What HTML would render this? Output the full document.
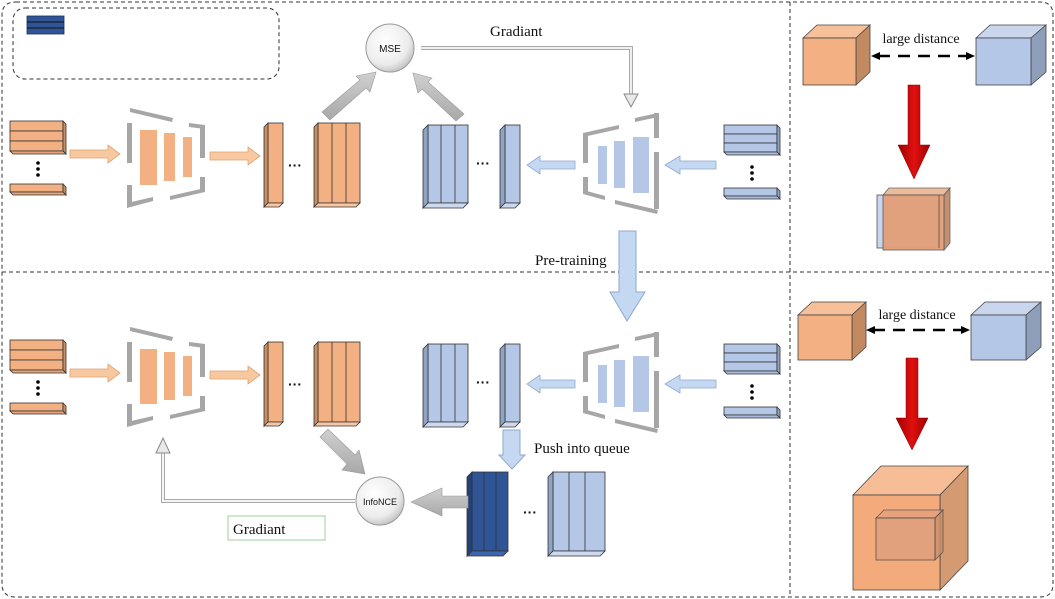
<!DOCTYPE html>
<html><head><meta charset="utf-8"><style>
html,body{margin:0;padding:0;background:#fff}
svg{display:block}
text{font-family:"Liberation Serif",serif;fill:#111}
</style></head><body>
<svg width="1055" height="599" viewBox="0 0 1055 599" xmlns="http://www.w3.org/2000/svg">
<defs>
<linearGradient id="gy" x1="0" y1="0" x2="0" y2="1"><stop offset="0" stop-color="#d0d0d0"/><stop offset="1" stop-color="#a8a8a8"/></linearGradient>
<radialGradient id="cg" cx="0.4" cy="0.35" r="0.7"><stop offset="0" stop-color="#fff"/><stop offset="0.7" stop-color="#ececec"/><stop offset="1" stop-color="#bdbdbd"/></radialGradient>
<linearGradient id="rd" x1="0" y1="0" x2="1" y2="0"><stop offset="0" stop-color="#9e0000"/><stop offset="0.5" stop-color="#e01010"/><stop offset="1" stop-color="#9e0000"/></linearGradient>

<g id="inO">
  <g stroke="#333" stroke-width="0.8">
  <rect x="10" y="121" width="53" height="10" fill="#f3b183"/>
  <rect x="10" y="131" width="53" height="10" fill="#f3b183"/>
  <rect x="10" y="141" width="53" height="10" fill="#f3b183"/>
  <polygon points="63,121 66,124 66,154 63,151" fill="#c98d62"/>
  <polygon points="10,151 63,151 66,154 13,154" fill="#e8a478"/>
  <rect x="10" y="184" width="53" height="8" fill="#f3b183"/>
  <polygon points="63,184 66,187 66,195 63,192" fill="#c98d62"/>
  <polygon points="10,192 63,192 66,195 13,195" fill="#e8a478"/>
  </g>
  <circle cx="38" cy="163" r="1.8" fill="#000"/><circle cx="38" cy="169" r="1.8" fill="#000"/><circle cx="38" cy="175" r="1.8" fill="#000"/>
</g>
<g id="encO">
  <g fill="#a6a6a6">
    <polygon points="130,108 173,118 172,122 130,112"/>
    <rect x="127" y="123" width="5" height="40"/>
    <polygon points="189,123 205,125 205,129 189,127"/>
    <rect x="200" y="128" width="5" height="30"/>
    <rect x="127" y="185" width="5" height="22"/>
    <polygon points="127,203 153,197 153,201 127,208"/>
    <polygon points="170,196 205,188 205,192 170,200"/>
    <rect x="200" y="177" width="5" height="15"/>
  </g>
  <rect x="140" y="130" width="17" height="55" fill="#f3b183"/>
  <rect x="164" y="133" width="11" height="48" fill="#f3b183"/>
  <rect x="183" y="137" width="9" height="40" fill="#f3b183"/>
</g>
<g id="featO" stroke="#333" stroke-width="0.8">
  <rect x="268" y="123" width="15" height="80" fill="#f3b183"/>
  <polygon points="264,127 268,123 268,203 264,207" fill="#c98d62"/>
  <polygon points="264,207 268,203 283,203 279,207" fill="#f7c7a4"/>
  <rect x="318" y="123" width="42" height="80" fill="#f3b183"/>
  <line x1="332" y1="123" x2="332" y2="203"/><line x1="346" y1="123" x2="346" y2="203"/>
  <polygon points="314,127 318,123 318,203 314,207" fill="#c98d62"/>
  <polygon points="314,207 318,203 360,203 356,207" fill="#f7c7a4"/>
</g>
<g id="featB" stroke="#333" stroke-width="0.8">
  <rect x="428" y="125" width="40" height="78" fill="#b4c7e7"/>
  <line x1="441" y1="125" x2="441" y2="203"/><line x1="455" y1="125" x2="455" y2="203"/>
  <polygon points="423,130 428,125 428,203 423,208" fill="#8fa3c4"/>
  <polygon points="423,208 428,203 468,203 463,208" fill="#cdd9ef"/>
  <rect x="505" y="125" width="15" height="78" fill="#b4c7e7"/>
  <polygon points="500,130 505,125 505,203 500,208" fill="#8fa3c4"/>
  <polygon points="500,208 505,203 520,203 515,208" fill="#cdd9ef"/>
</g>
<g id="encB">
  <g fill="#a6a6a6">
    <polygon points="635,118 658,113 658,117 635,122"/>
    <rect x="654" y="113" width="5" height="25"/>
    <polygon points="583,133 619,125 619,129 583,137"/>
    <rect x="583" y="133" width="5" height="30"/>
    <rect x="583" y="177" width="5" height="16"/>
    <polygon points="583,190 605,196 605,200 583,194"/>
    <polygon points="615,200 658,210 657,214 615,204"/>
    <rect x="654" y="152" width="5" height="57"/>
  </g>
  <rect x="598" y="146" width="9" height="38" fill="#b4c7e7"/>
  <rect x="614" y="141" width="11" height="47" fill="#b4c7e7"/>
  <rect x="633" y="137" width="16" height="56" fill="#b4c7e7"/>
</g>
<g id="inB">
  <g stroke="#333" stroke-width="0.8">
  <rect x="724" y="125" width="53" height="9" fill="#b4c7e7"/>
  <rect x="724" y="134" width="53" height="9" fill="#b4c7e7"/>
  <rect x="724" y="143" width="53" height="9" fill="#b4c7e7"/>
  <polygon points="777,125 780,128 780,155 777,152" fill="#8fa3c4"/>
  <polygon points="724,152 777,152 780,155 727,155" fill="#a8bbdc"/>
  <rect x="724" y="188" width="53" height="8" fill="#b4c7e7"/>
  <polygon points="777,188 780,191 780,199 777,196" fill="#8fa3c4"/>
  <polygon points="724,196 777,196 780,199 727,199" fill="#a8bbdc"/>
  </g>
  <circle cx="752" cy="167" r="1.8" fill="#000"/><circle cx="752" cy="173" r="1.8" fill="#000"/><circle cx="752" cy="179" r="1.8" fill="#000"/>
</g>
<g id="row">
  <use href="#inO"/><use href="#encO"/><use href="#featO"/><use href="#featB"/><use href="#encB"/><use href="#inB"/>
  <polygon points="70,150 108,150 108,145 120,154 108,163 108,158 70,158" fill="#f8c9a0" stroke="#e0a070" stroke-width="0.8"/>
  <polygon points="210,152 248,152 248,147 260,156 248,165 248,160 210,160" fill="#f8c9a0" stroke="#e0a070" stroke-width="0.8"/>
  <polygon points="575,161 540,161 540,156 527,165 540,174 540,169 575,169" fill="#c5d8f2" stroke="#8fa8d0" stroke-width="0.8"/>
  <polygon points="716,161 680,161 680,156 665,165 680,174 680,169 716,169" fill="#c5d8f2" stroke="#8fa8d0" stroke-width="0.8"/>
  <text x="288" y="170" font-size="14" font-weight="bold" style="font-family:'Liberation Sans',sans-serif">···</text>
  <text x="476" y="168" font-size="14" font-weight="bold" style="font-family:'Liberation Sans',sans-serif">···</text>
</g>
</defs>

<path d="M16,2 H1040 Q1053,2 1053,15 V584 Q1053,597 1040,597 H16 Q2,597 2,584 V15 Q2,2 16,2 Z" fill="none" stroke="#333" stroke-width="1" stroke-dasharray="4,3"/>
<line x1="790" y1="2" x2="790" y2="597" stroke="#333" stroke-dasharray="4,3"/>
<line x1="2" y1="272" x2="1053" y2="272" stroke="#333" stroke-dasharray="4,3"/>
<rect x="13" y="8" width="266" height="71" rx="12" fill="none" stroke="#333" stroke-dasharray="4,3"/>
<rect x="27" y="16" width="37" height="18" fill="#2f5597" stroke="#1a2f5a" stroke-width="0.8"/>
<line x1="27" y1="22" x2="64" y2="22" stroke="#111"/><line x1="27" y1="28" x2="64" y2="28" stroke="#111"/>

<use href="#row"/>
<use href="#row" transform="translate(0,219)"/>

<polygon points="322,112 360,80 356,76 376,72 370,92 366,88 330,120" fill="url(#gy)" stroke="#999" stroke-width="0.6"/>
<polygon points="464,114 428,82 432,78 413,73 418,93 422,89 456,121" fill="url(#gy)" stroke="#999" stroke-width="0.6"/>
<circle cx="390" cy="48" r="24" fill="url(#cg)" stroke="#999"/>
<text x="390" y="52" font-size="10" text-anchor="middle" style="font-family:'Liberation Sans',sans-serif">MSE</text>
<path d="M421,48 H631 V96" fill="none" stroke="#aaa" stroke-width="4"/>
<path d="M421,48 H631 V96" fill="none" stroke="#eee" stroke-width="2"/>
<polygon points="624,94 638,94 631,107" fill="#e8e8e8" stroke="#888"/>
<text x="490" y="36" font-size="15">Gradiant</text>

<polygon points="619,231 636,231 636,292 645,292 627,321 610,292 619,292" fill="#c5d8f2" stroke="#8fa8d0"/>
<text x="535" y="265" font-size="15">Pre-training</text>

<polygon points="503,430 520,430 520,455 525,455 512,469 499,455 503,455" fill="#c5d8f2" stroke="#8fa8d0"/>
<text x="534" y="453" font-size="15">Push into queue</text>
<g stroke="#333" stroke-width="0.8">
  <rect x="472" y="472" width="36" height="79" fill="#2f5597"/>
  <line x1="484" y1="472" x2="484" y2="551"/><line x1="496" y1="472" x2="496" y2="551"/>
  <polygon points="467,477 472,472 472,551 467,556" fill="#23417a"/>
  <polygon points="467,556 472,551 508,551 503,556" fill="#3c66ad"/>
  <rect x="553" y="472" width="52" height="79" fill="#b4c7e7"/>
  <line x1="569" y1="472" x2="569" y2="551"/><line x1="585" y1="472" x2="585" y2="551"/>
  <polygon points="548,477 553,472 553,551 548,556" fill="#8fa3c4"/>
  <polygon points="548,556 553,551 605,551 600,556" fill="#cdd9ef"/>
</g>
<text x="523" y="517" font-size="14" font-weight="bold" style="font-family:'Liberation Sans',sans-serif">···</text>
<polygon points="468,496 442,496 442,488 411,502 442,516 442,508 468,508" fill="url(#gy)" stroke="#999" stroke-width="0.6"/>
<polygon points="320,437 328,429 355,455 359,450 365,474 342,470 347,464" fill="url(#gy)" stroke="#999" stroke-width="0.6"/>
<path d="M355,501 H163 V452" fill="none" stroke="#aaa" stroke-width="4"/>
<path d="M355,501 H163 V452" fill="none" stroke="#f4f4f4" stroke-width="2"/>
<polygon points="156,453 170,453 163,438" fill="#e8e8e8" stroke="#888"/>
<circle cx="380" cy="501" r="24" fill="url(#cg)" stroke="#999"/>
<text x="380" y="505" font-size="9" text-anchor="middle" style="font-family:'Liberation Sans',sans-serif">InfoNCE</text>
<rect x="228" y="516" width="97" height="24" fill="#fff" stroke="#9bd09b"/>
<text x="233" y="534" font-size="15">Gradiant</text>

<g stroke="#444" stroke-width="0.8">
  <polygon points="803,38 817,25 870,25 856,38" fill="#f6c09a"/>
  <polygon points="856,38 870,25 870,72 856,85" fill="#c38a62"/>
  <rect x="803" y="38" width="53" height="47" fill="#f3b183"/>
  <polygon points="976,38 990,25 1046,25 1031,38" fill="#c9d6ee"/>
  <polygon points="1031,38 1046,25 1046,72 1031,85" fill="#8f9fbb"/>
  <rect x="976" y="38" width="55" height="47" fill="#b4c7e7"/>
</g>
<text x="921" y="43" font-size="14" text-anchor="middle">large distance</text>
<line x1="878" y1="56" x2="968" y2="56" stroke="#000" stroke-width="2.5" stroke-dasharray="12,8"/>
<polygon points="871,56 880,52 880,60" fill="#000"/><polygon points="975,56 966,52 966,60" fill="#000"/>
<polygon points="908,85 920,85 920,145 930,145 914,179 898,145 908,145" fill="url(#rd)" stroke="#800" stroke-width="0.5"/>
<g stroke="#555" stroke-width="0.8">
  <rect x="877" y="195" width="63" height="53" fill="#c9d6ee"/>
  <polygon points="883,195 889,188 950,188 944,195" fill="#eab491" opacity="0.9"/>
  <polygon points="944,195 950,188 950,243 944,250" fill="#c08560" opacity="0.9"/>
  <rect x="883" y="195" width="61" height="55" fill="#e39f78" opacity="0.95"/>
  <line x1="939" y1="195" x2="939" y2="248"/>
</g>

<g stroke="#444" stroke-width="0.8">
  <polygon points="798,315 812,302 866,302 852,315" fill="#f6c09a"/>
  <polygon points="852,315 866,302 866,347 852,360" fill="#c38a62"/>
  <rect x="798" y="315" width="54" height="45" fill="#f3b183"/>
  <polygon points="971,315 985,302 1041,302 1026,315" fill="#c9d6ee"/>
  <polygon points="1026,315 1041,302 1041,347 1026,360" fill="#8f9fbb"/>
  <rect x="971" y="315" width="55" height="45" fill="#b4c7e7"/>
</g>
<text x="917" y="319" font-size="14" text-anchor="middle">large distance</text>
<line x1="873" y1="330" x2="963" y2="330" stroke="#000" stroke-width="2.5" stroke-dasharray="12,8"/>
<polygon points="866,330 875,326 875,334" fill="#000"/><polygon points="970,330 961,326 961,334" fill="#000"/>
<polygon points="906,358 918,358 918,418 928,418 912,450 896,418 906,418" fill="url(#rd)" stroke="#800" stroke-width="0.5"/>
<g stroke="#444" stroke-width="0.8">
  <polygon points="853,495 881,466 968,466 940,495" fill="#f6bd96"/>
  <polygon points="940,495 968,466 968,561 940,590" fill="#d49a72"/>
  <rect x="853" y="495" width="87" height="95" fill="#f3ab7c"/>
  <polygon points="876,518 884,510 943,510 935,518" fill="#e3a07b" opacity="0.8"/>
  <polygon points="935,518 943,510 943,552 935,560" fill="#c98f6a" opacity="0.8"/>
  <rect x="876" y="518" width="59" height="42" fill="#e0a07e" opacity="0.85"/>
</g>
</svg>
</body></html>
